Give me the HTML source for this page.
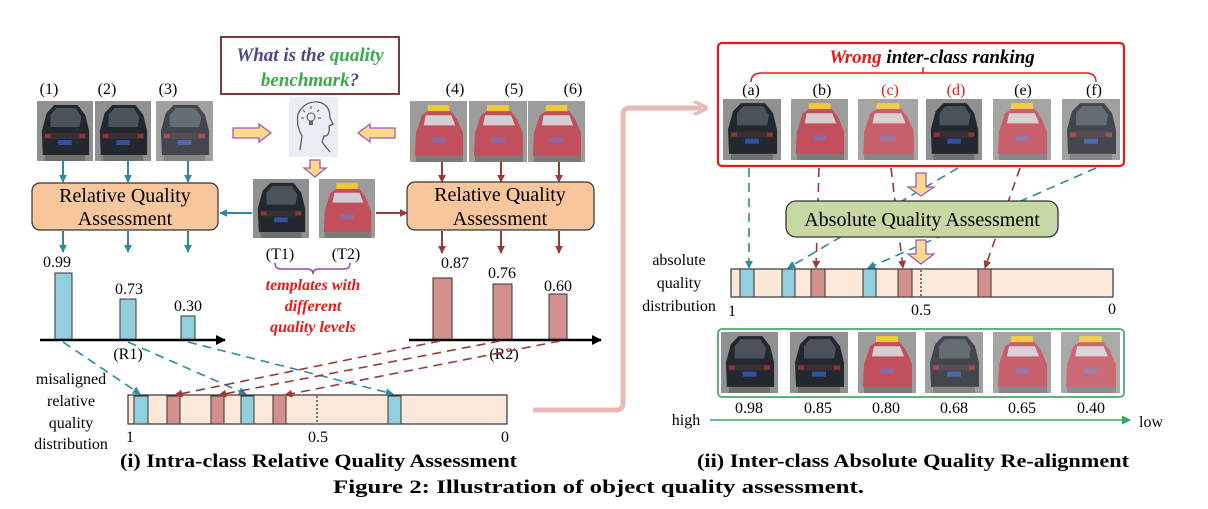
<!DOCTYPE html>
<html><head><meta charset="utf-8"><style>
html,body{margin:0;padding:0;background:#fff;}
svg{display:block;}
text{font-family:"Liberation Serif",serif;}
</style></head><body>
<svg width="1208" height="509" viewBox="0 0 1208 509" xmlns="http://www.w3.org/2000/svg">
<defs>
<symbol id="bc" viewBox="0 0 58 60" preserveAspectRatio="none">
<rect width="58" height="60" fill="#8e918f"/>
<path d="M10 12 L18 4 L42 4 L50 14 L54 30 L54 54 L6 54 L5 30 Z" fill="#23272e"/>
<path d="M14 14 L20 7 L40 7 L46 16 L44 26 L14 26 Z" fill="#4a535c"/>
<rect x="8" y="32" width="42" height="6" fill="#3a3034"/>
<rect x="8" y="33" width="6" height="4" fill="#9a3038"/><rect x="44" y="33" width="6" height="4" fill="#9a3038"/>
<rect x="22" y="39" width="14" height="5" fill="#3050a0"/>
<rect x="8" y="54" width="42" height="6" fill="#6e706c"/>
</symbol>
<symbol id="rc" viewBox="0 0 58 60" preserveAspectRatio="none">
<rect width="58" height="60" fill="#9c9c9a"/>
<rect x="18" y="4" width="22" height="7" fill="#f0c838"/>
<path d="M12 14 L18 10 L42 10 L48 18 L54 32 L54 54 L5 54 L6 32 Z" fill="#c24f5c"/>
<path d="M16 14 L42 14 L46 24 L14 24 Z" fill="#d6cdd2"/>
<rect x="22" y="36" width="14" height="5" fill="#8a6aa0"/>
<rect x="6" y="54" width="48" height="6" fill="#7a7a78"/>
</symbol>
<marker id="ab" viewBox="0 0 10 10" refX="9" refY="5" markerWidth="8" markerHeight="8" markerUnits="userSpaceOnUse" orient="auto"><path d="M0 0 L10 5 L0 10 Z" fill="#2e8aa0"/></marker>
<marker id="ar" viewBox="0 0 10 10" refX="9" refY="5" markerWidth="8" markerHeight="8" markerUnits="userSpaceOnUse" orient="auto"><path d="M0 0 L10 5 L0 10 Z" fill="#9a3a34"/></marker>
<marker id="ak" viewBox="0 0 10 10" refX="9" refY="5" markerWidth="10" markerHeight="10" markerUnits="userSpaceOnUse" orient="auto"><path d="M0 0 L10 5 L0 10 Z" fill="#000"/></marker>
<marker id="ag" viewBox="0 0 10 10" refX="9" refY="5" markerWidth="9" markerHeight="9" markerUnits="userSpaceOnUse" orient="auto"><path d="M0 0 L10 5 L0 10 Z" fill="#2aae58"/></marker>
<marker id="ap" viewBox="0 0 10 10" refX="6" refY="5" markerWidth="14" markerHeight="14" markerUnits="userSpaceOnUse" orient="auto"><path d="M0 0 L10 5 L0 10" fill="none" stroke="#e8b8b4" stroke-width="2.5"/></marker>
</defs>

<!-- pink long arrow -->
<path d="M533 410 L616 410 Q623 410 623 403 L623 115 Q623 108 630 108 L702 108" fill="none" stroke="#e8b8b4" stroke-width="5" marker-end="url(#ap)"/>

<!-- question box -->
<rect x="221" y="37" width="178" height="57" fill="#fff" stroke="#7a3a38" stroke-width="2"/>
<text x="310" y="61" text-anchor="middle" font-size="19" font-weight="bold" font-style="italic"><tspan fill="#4a4a8a">What is the </tspan><tspan fill="#3aaa4a">quality</tspan></text>
<text x="310" y="86" text-anchor="middle" font-size="19" font-weight="bold" font-style="italic"><tspan fill="#3aaa4a">benchmark</tspan><tspan fill="#4a4a8a">?</tspan></text>

<!-- head icon -->
<rect x="289" y="97" width="49" height="60" fill="#e8eef4"/>
<path d="M300 150 L302 136 Q296 126 298 114 Q304 101 318 102 Q330 104 330 118 L333 124 L329 126 Q330 134 326 136 L324 136 L322 142 L330 152" fill="none" stroke="#555" stroke-width="1.2"/>
<circle cx="311" cy="117" r="4" fill="none" stroke="#555"/><rect x="309" y="121" width="4" height="4" fill="#666"/>
<path d="M303 110 l2 2 M311 106 v3 M319 110 l-2 2 M301 118 h3 M318 118 h3" stroke="#555"/>

<!-- hollow arrows -->
<path d="M233 128 L259 128 L259 124 L271 133 L259 142 L259 138 L233 138 Z" fill="#fdd98a" stroke="#9a5cc0" stroke-width="1.3"/>
<path d="M395 128 L370 128 L370 124 L358 133 L370 142 L370 138 L395 138 Z" fill="#fdd98a" stroke="#9a5cc0" stroke-width="1.3"/>
<path d="M310 160 L320 160 L320 168 L326 168 L315 177 L304 168 L310 168 Z" fill="#fdd98a" stroke="#9a5cc0" stroke-width="1.3"/>

<!-- left images -->
<text x="49" y="94" text-anchor="middle" font-size="16">(1)</text>
<text x="107" y="94" text-anchor="middle" font-size="16">(2)</text>
<text x="168" y="94" text-anchor="middle" font-size="16">(3)</text>
<use href="#bc" x="37" y="101" width="56" height="60"/>
<use href="#bc" x="95" y="101" width="56" height="60"/>
<use href="#bc" x="156" y="101" width="57" height="60" opacity="0.85"/>
<g stroke="#2e8aa0" stroke-width="2" marker-end="url(#ab)">
<line x1="63" y1="161" x2="63" y2="182"/><line x1="128" y1="161" x2="128" y2="182"/><line x1="188" y1="161" x2="188" y2="182"/>
<line x1="63" y1="231" x2="63" y2="252"/><line x1="128" y1="231" x2="128" y2="252"/><line x1="188" y1="231" x2="188" y2="252"/>
<line x1="252" y1="213" x2="220" y2="213"/>
</g>
<rect x="32" y="183" width="186" height="47" rx="8" fill="#f8c69c" stroke="#333" stroke-width="1.2"/>
<text x="125" y="202" text-anchor="middle" font-size="20">Relative Quality</text>
<text x="125" y="225" text-anchor="middle" font-size="20">Assessment</text>

<!-- right images -->
<text x="455" y="94" text-anchor="middle" font-size="16">(4)</text>
<text x="514" y="94" text-anchor="middle" font-size="16">(5)</text>
<text x="573" y="94" text-anchor="middle" font-size="16">(6)</text>
<use href="#rc" x="410" y="101" width="57" height="61"/>
<use href="#rc" x="469" y="101" width="58" height="61"/>
<use href="#rc" x="528" y="101" width="57" height="61"/>
<g stroke="#9a3a34" stroke-width="2" marker-end="url(#ar)">
<line x1="442" y1="162" x2="442" y2="182"/><line x1="501" y1="162" x2="501" y2="182"/><line x1="559" y1="162" x2="559" y2="182"/>
<line x1="442" y1="231" x2="442" y2="253"/><line x1="501" y1="231" x2="501" y2="253"/><line x1="559" y1="231" x2="559" y2="253"/>
<line x1="376" y1="213" x2="407" y2="213"/>
</g>
<rect x="407" y="182" width="187" height="48" rx="8" fill="#f8c69c" stroke="#333" stroke-width="1.2"/>
<text x="500" y="201" text-anchor="middle" font-size="20">Relative Quality</text>
<text x="500" y="225" text-anchor="middle" font-size="20">Assessment</text>

<!-- templates -->
<use href="#bc" x="253" y="179" width="56" height="59"/>
<use href="#rc" x="319" y="179" width="56" height="59"/>
<text x="280" y="259" text-anchor="middle" font-size="16">(T1)</text>
<text x="346" y="259" text-anchor="middle" font-size="16">(T2)</text>
<path d="M275 263 Q275 269 281 269 L307 269 Q313 269 313 274 Q313 269 319 269 L344 269 Q350 269 350 263" fill="none" stroke="#8a4ab8" stroke-width="1.5"/>
<g fill="#e81818" font-size="16" font-weight="bold" font-style="italic" text-anchor="middle">
<text x="313" y="290">templates with</text><text x="313" y="311">different</text><text x="313" y="332">quality levels</text></g>

<!-- left bars -->
<g font-size="16" text-anchor="middle">
<text x="57" y="267">0.99</text><text x="129" y="294">0.73</text><text x="188" y="311">0.30</text>
<text x="128" y="359">(R1)</text>
<text x="455" y="268">0.87</text><text x="502" y="278">0.76</text><text x="558" y="291">0.60</text>
<text x="504" y="359">(R2)</text>
</g>
<g fill="#92cfdc" stroke="#333" stroke-width="1">
<rect x="55" y="273" width="17" height="67"/><rect x="120" y="299" width="16" height="41"/><rect x="181" y="316" width="14" height="24"/>
</g>
<g fill="#d4908c" stroke="#333" stroke-width="1">
<rect x="433" y="278" width="19" height="62"/><rect x="493" y="284" width="19" height="56"/><rect x="549" y="294" width="18" height="46"/>
</g>
<line x1="40" y1="340" x2="225" y2="340" stroke="#000" stroke-width="2.5" marker-end="url(#ak)"/>
<line x1="409" y1="340" x2="601" y2="340" stroke="#000" stroke-width="2.5" marker-end="url(#ak)"/>

<!-- left distribution -->
<rect x="128" y="395" width="379" height="29" fill="#fce8d8" stroke="#333" stroke-width="1.2"/>
<g stroke="#333" stroke-width="1">
<rect x="134" y="396" width="14" height="28" fill="#92cfdc"/><rect x="241" y="396" width="13" height="28" fill="#92cfdc"/><rect x="388" y="396" width="13" height="28" fill="#92cfdc"/>
<rect x="167" y="396" width="13" height="28" fill="#d4908c"/><rect x="211" y="396" width="13" height="28" fill="#d4908c"/><rect x="273" y="395" width="13" height="29" fill="#d4908c"/>
</g>
<line x1="317" y1="396" x2="317" y2="424" stroke="#000" stroke-dasharray="2,2"/>
<g font-size="16" text-anchor="middle"><text x="130" y="442">1</text><text x="318" y="442">0.5</text><text x="505" y="442">0</text></g>
<g stroke-width="1.6" stroke-dasharray="9,6">
<line x1="63" y1="342" x2="140" y2="394" stroke="#2e8aa0" marker-end="url(#ab)"/>
<line x1="128" y1="342" x2="246" y2="394" stroke="#2e8aa0" marker-end="url(#ab)"/>
<line x1="188" y1="342" x2="393" y2="394" stroke="#2e8aa0" marker-end="url(#ab)"/>
<line x1="440" y1="341" x2="175" y2="395" stroke="#9a3a34" marker-end="url(#ar)"/>
<line x1="500" y1="341" x2="219" y2="395" stroke="#9a3a34" marker-end="url(#ar)"/>
<line x1="560" y1="341" x2="285" y2="395" stroke="#9a3a34" marker-end="url(#ar)"/>
</g>
<g font-size="16" text-anchor="middle"><text x="71" y="384">misaligned</text><text x="71" y="406">relative</text><text x="71" y="428">quality</text><text x="71" y="449">distribution</text></g>

<!-- right section -->
<rect x="718" y="43" width="406" height="123" rx="4" fill="#fff" stroke="#e81818" stroke-width="2.2"/>
<text x="932" y="63" text-anchor="middle" font-size="19" font-weight="bold" font-style="italic"><tspan fill="#e81818">Wrong </tspan><tspan fill="#000">inter-class ranking</tspan></text>
<path d="M751 82 Q751 73 762 73 L1086 73 Q1096 73 1096 82 M923 73 V67" fill="none" stroke="#e81818" stroke-width="1.5"/>
<g font-size="16" text-anchor="middle"><text x="751" y="95">(a)</text><text x="822" y="95">(b)</text><text x="890" y="95" fill="#e81818">(c)</text><text x="956" y="95" fill="#e81818">(d)</text><text x="1023" y="95">(e)</text><text x="1094" y="95">(f)</text></g>
<use href="#bc" x="723" y="99" width="58" height="61"/>
<use href="#rc" x="791" y="99" width="57" height="61"/>
<use href="#rc" x="858" y="99" width="60" height="61" opacity="0.9"/>
<use href="#bc" x="926" y="99" width="56" height="61"/>
<use href="#rc" x="993" y="99" width="58" height="61" opacity="0.9"/>
<use href="#bc" x="1062" y="99" width="58" height="61" opacity="0.85"/>

<g stroke-width="1.6" stroke-dasharray="9,6">
<line x1="749" y1="168" x2="749" y2="268" stroke="#2e8aa0" marker-end="url(#ab)"/>
<line x1="819" y1="168" x2="816" y2="268" stroke="#9a3a34" marker-end="url(#ar)"/>
<line x1="891" y1="168" x2="903" y2="268" stroke="#9a3a34" marker-end="url(#ar)"/>
<line x1="958" y1="168" x2="788" y2="268" stroke="#2e8aa0" marker-end="url(#ab)"/>
<line x1="1096" y1="168" x2="868" y2="268" stroke="#2e8aa0" marker-end="url(#ab)"/>
<line x1="1020" y1="168" x2="985" y2="268" stroke="#9a3a34" marker-end="url(#ar)"/>
</g>
<path d="M916 173 L926 173 L926 187 L934 187 L921 196 L908 187 L916 187 Z" fill="#fdd98a" stroke="#9a5cc0" stroke-width="1.3"/>
<rect x="786" y="201" width="272" height="36" rx="10" fill="#c6d9a2" stroke="#333" stroke-width="1.3"/>
<text x="922" y="226" text-anchor="middle" font-size="20">Absolute Quality Assessment</text>
<path d="M916 240 L926 240 L926 254 L934 254 L921 264 L908 254 L916 254 Z" fill="#fdd98a" stroke="#9a5cc0" stroke-width="1.3"/>

<rect x="731" y="269" width="382" height="28" fill="#fce8d8" stroke="#333" stroke-width="1.2"/>
<g stroke="#333" stroke-width="1">
<rect x="740" y="269" width="14" height="28" fill="#92cfdc"/><rect x="782" y="269" width="13" height="28" fill="#92cfdc"/><rect x="863" y="269" width="13" height="28" fill="#92cfdc"/>
<rect x="811" y="269" width="14" height="28" fill="#d4908c"/><rect x="898" y="269" width="14" height="28" fill="#d4908c"/><rect x="978" y="269" width="13" height="28" fill="#d4908c"/>
</g>
<line x1="921" y1="270" x2="921" y2="297" stroke="#000" stroke-dasharray="2,2"/>
<g font-size="16" text-anchor="middle"><text x="732" y="316">1</text><text x="921" y="315">0.5</text><text x="1112" y="314">0</text>
<text x="679" y="265">absolute</text><text x="679" y="288">quality</text><text x="679" y="311">distribution</text></g>

<rect x="718" y="329" width="406" height="68" rx="4" fill="#fff" stroke="#4aaa68" stroke-width="1.8"/>
<use href="#bc" x="721" y="332" width="57" height="61"/>
<use href="#bc" x="790" y="332" width="58" height="61"/>
<use href="#rc" x="858" y="332" width="58" height="61"/>
<use href="#bc" x="925" y="332" width="58" height="61" opacity="0.85"/>
<use href="#rc" x="993" y="332" width="58" height="61" opacity="0.9"/>
<use href="#rc" x="1061" y="332" width="59" height="61" opacity="0.85"/>
<g font-size="16" text-anchor="middle"><text x="749" y="413">0.98</text><text x="818" y="413">0.85</text><text x="886" y="413">0.80</text><text x="954" y="413">0.68</text><text x="1022" y="413">0.65</text><text x="1091" y="413">0.40</text>
<text x="686" y="425">high</text><text x="1151" y="427">low</text></g>
<line x1="710" y1="420" x2="1130" y2="420" stroke="#2aae58" stroke-width="1.6" marker-end="url(#ag)"/>

<!-- captions -->
<text x="120" y="467" font-size="18.5" font-weight="bold" textLength="397" lengthAdjust="spacingAndGlyphs">(i) Intra-class Relative Quality Assessment</text>
<text x="697" y="467" font-size="18.5" font-weight="bold" textLength="432" lengthAdjust="spacingAndGlyphs">(ii) Inter-class Absolute Quality Re-alignment</text>
<text x="333" y="493" font-size="19" font-weight="bold" textLength="531" lengthAdjust="spacingAndGlyphs">Figure 2: Illustration of object quality assessment.</text>
</svg>
</body></html>
